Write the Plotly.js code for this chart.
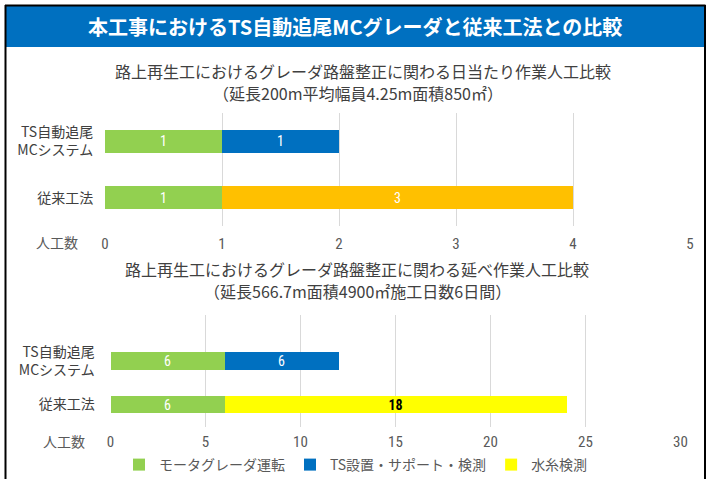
<!DOCTYPE html>
<html>
<head>
<meta charset="utf-8">
<script src="https://cdn.plot.ly/plotly-3.0.1.min.js"></script>
<style>
html,body{margin:0;padding:0;background:#fff;}
#chart{width:712px;height:479px;}
</style>
</head>
<body>
<div id="chart"></div>
<script>
// ---- data ----
const categories = ['TS自動追尾<br>MCシステム', '従来工法'];
const seriesNames = ['モータグレーダ運転', 'TS設置・サポート・検測', '水糸検測'];
// chart 1: daily man-days
const dailyMotor = [1, 1];
const dailyTS = [1, null];
const dailyString = [null, 3];
// chart 2: total man-days
const totalMotor = [6, 6];
const totalTS = [6, null];
const totalString = [null, 18];
const ticks1 = [0, 1, 2, 3, 4, 5];
const ticks2 = [0, 5, 10, 15, 20, 25, 30];

const mainTitle = '本工事におけるTS自動追尾MCグレーダと従来工法との比較';
const title1a = '路上再生工におけるグレーダ路盤整正に関わる日当たり作業人工比較';
const title1b = '（延長200m平均幅員4.25m面積850㎡）';
const title2a = '路上再生工におけるグレーダ路盤整正に関わる延べ作業人工比較';
const title2b = '（延長566.7m面積4900㎡施工日数6日間）';
const unitLabel = '人工数';

// ---- helpers ----
const W = 712, H = 479;
const px = x => x / W;
const py = y => 1 - y / H;
const JP = '"Noto Sans CJK JP", "Noto Sans", sans-serif';
const NUM = '"Liberation Sans Narrow", "Roboto Condensed", "Noto Sans CJK JP", sans-serif';
const GRAY = '#595959';
const C_GREEN = '#92D050', C_BLUE = '#0070C0', C_ORANGE = '#FFC000', C_YELLOW = '#FFFF00';

function bar(x, name, color, xa, ya, show, txtColor, bold) {
  return {
    type: 'bar', orientation: 'h', x: x, y: categories, name: name,
    xaxis: xa, yaxis: ya, showlegend: show, width: 0.41,
    marker: {color: color},
    text: x.map(v => v == null ? '' : String(v)),
    textposition: 'inside', insidetextanchor: 'middle', textangle: 0, constraintext: 'none',
    textfont: {color: txtColor, size: 14, family: NUM, weight: bold ? 'bold' : 'normal'},
    hoverinfo: 'x+name', cliponaxis: false
  };
}

const data = [
  bar(dailyMotor, seriesNames[0], C_GREEN, 'x', 'y', false, '#ffffff', false),
  bar(dailyTS, seriesNames[1], C_BLUE, 'x', 'y', false, '#ffffff', false),
  bar(dailyString, seriesNames[2], C_ORANGE, 'x', 'y', false, '#ffffff', false),
  bar(totalMotor, seriesNames[0], C_GREEN, 'x2', 'y2', true, '#ffffff', false),
  bar(totalTS, seriesNames[1], C_BLUE, 'x2', 'y2', true, '#ffffff', false),
  bar(totalString, seriesNames[2], C_YELLOW, 'x2', 'y2', true, '#000000', true)
];

const xCommon = {
  showgrid: true, gridcolor: '#d9d9d9', gridwidth: 1, zeroline: false,
  showline: false, ticks: 'outside', tickcolor: 'rgba(0,0,0,0)', ticklen: 4,
  tickfont: {family: NUM, size: 15, color: GRAY}, fixedrange: true, automargin: false
};
const yCommon = {
  type: 'category', showgrid: false, zeroline: false, showline: false,
  ticks: 'outside', tickcolor: 'rgba(0,0,0,0)', ticklen: 8,
  tickfont: {family: JP, size: 14, color: '#404040'}, fixedrange: true, automargin: false
};

function note(text, x, y, size, color, bold) {
  return {text: text, xref: 'paper', yref: 'paper', x: px(x), y: py(y), xanchor: 'center', yanchor: 'middle',
          showarrow: false, font: {family: JP, size: size, color: color, weight: bold ? 'bold' : 'normal'}};
}

const layout = {
  width: W, height: H,
  margin: {l: 0, r: 0, t: 0, b: 0, autoexpand: false},
  paper_bgcolor: '#ffffff', plot_bgcolor: 'rgba(0,0,0,0)',
  barmode: 'stack',
  font: {family: JP, color: GRAY},
  xaxis: Object.assign({}, xCommon, {domain: [px(105), px(690)], range: [0, 5], tickvals: ticks1, anchor: 'y'}),
  yaxis: Object.assign({}, yCommon, {domain: [py(226), py(113)], range: [1.5, -0.5], anchor: 'x'}),
  xaxis2: Object.assign({}, xCommon, {domain: [px(110.5), px(680.5)], range: [0, 30], tickvals: ticks2, anchor: 'y2', ticklen: 1}),
  yaxis2: Object.assign({}, yCommon, {domain: [py(427), py(315)], range: [1.517, -1.057], anchor: 'x2', ticklen: 12}),
  legend: {
    orientation: 'h', traceorder: 'normal', x: 0.5, xanchor: 'center', y: py(465), yanchor: 'middle',
    font: {family: JP, size: 14, color: GRAY}, bgcolor: 'rgba(0,0,0,0)',
    itemclick: false, itemdoubleclick: false, itemwidth: 30
  },
  shapes: [
    {type: 'rect', xref: 'paper', yref: 'paper', x0: px(6), x1: px(704), y0: py(47), y1: py(6),
     fillcolor: '#0070C0', line: {width: 0}, layer: 'below'},
    {type: 'line', xref: 'paper', yref: 'paper', x0: px(5.5), x1: px(5.5), y0: 0, y1: py(5), line: {color: '#000', width: 2}},
    {type: 'line', xref: 'paper', yref: 'paper', x0: px(705), x1: px(705), y0: 0, y1: py(5), line: {color: '#000', width: 2}},
    {type: 'line', xref: 'paper', yref: 'paper', x0: px(5), x1: px(705.5), y0: py(5.5), y1: py(5.5), line: {color: '#000', width: 2}}
  ],
  annotations: [
    note(mainTitle, 355, 27, 20, '#ffffff', true),
    note(title1a, 363, 71, 16, '#404040', false),
    note(title1b, 358, 93, 16, '#404040', false),
    note(title2a, 357, 269, 16, '#404040', false),
    note(title2b, 357, 291, 16, '#404040', false),
    note(unitLabel, 57, 242, 14, GRAY, false),
    note(unitLabel, 64, 441, 14, GRAY, false)
  ]
};

Plotly.newPlot('chart', data, layout, {staticPlot: true, displayModeBar: false});
</script>
</body>
</html>
